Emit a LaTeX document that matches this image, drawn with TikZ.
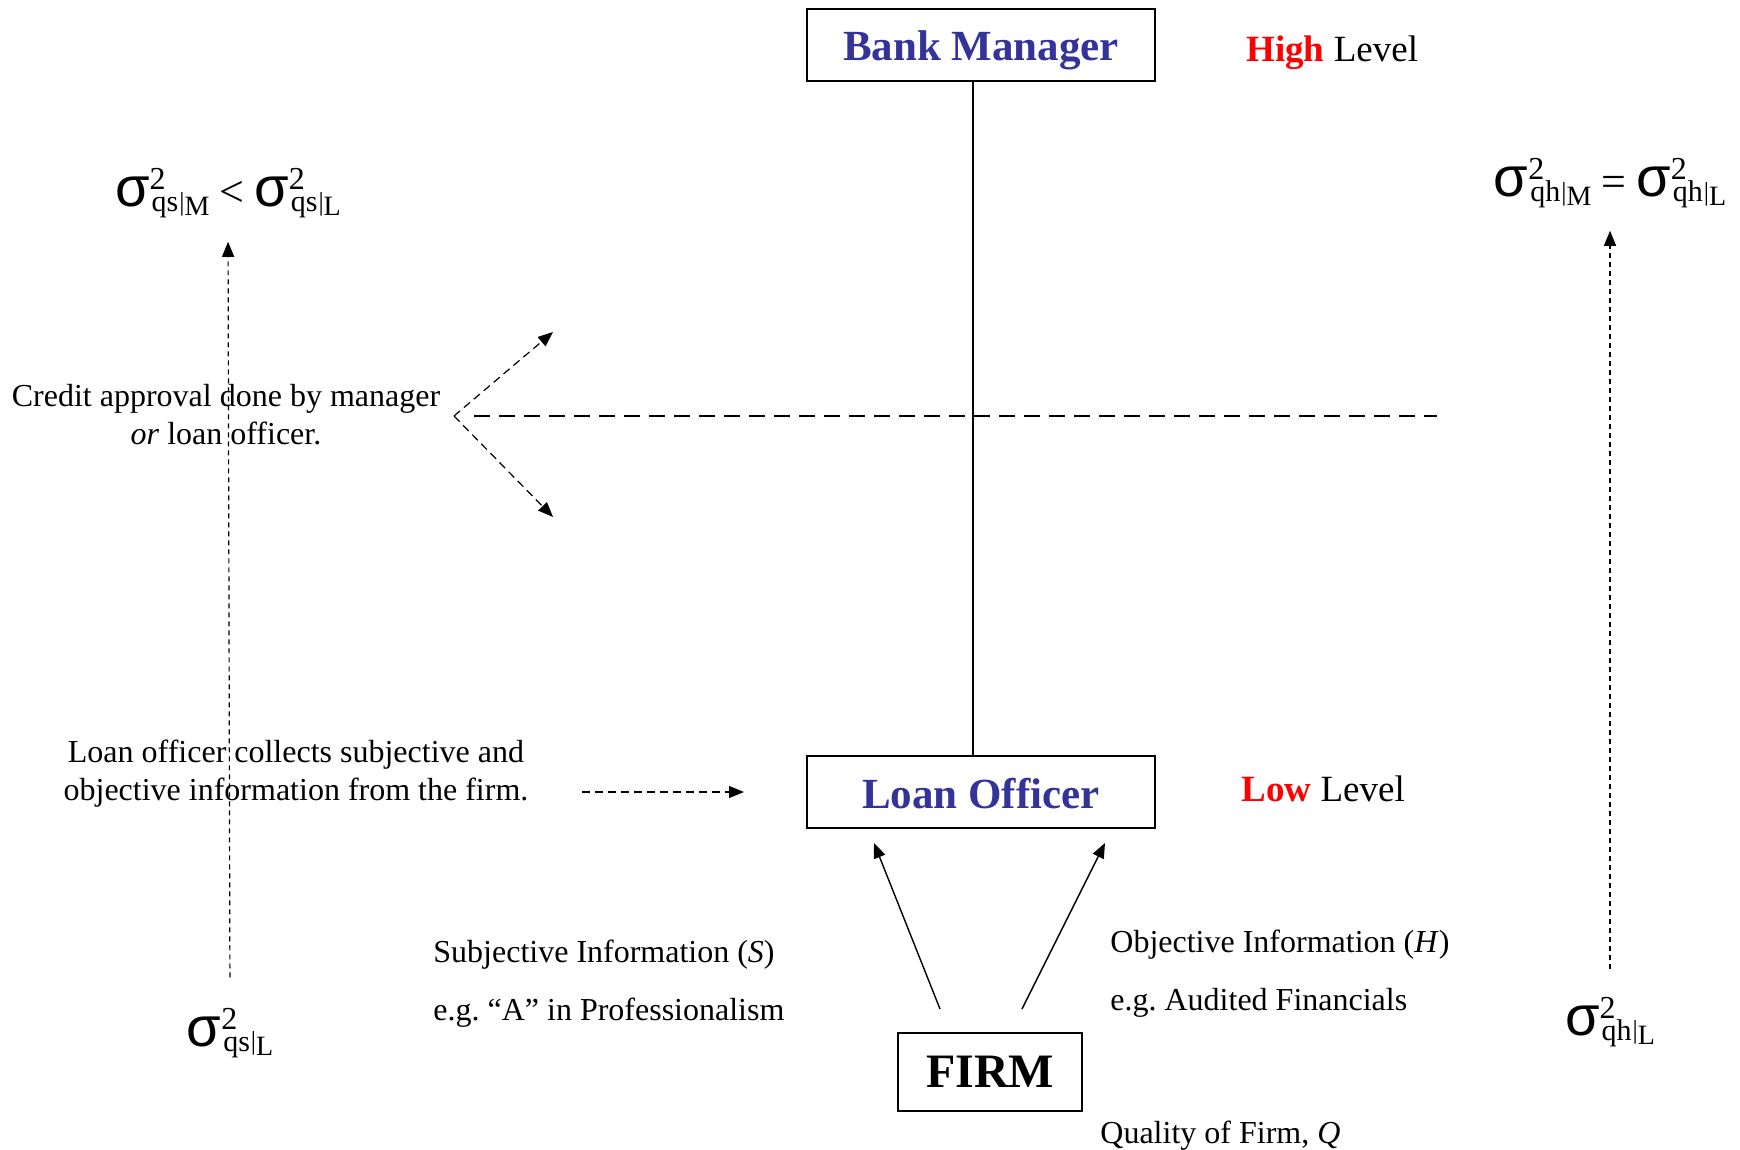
\documentclass[tikz,border=0pt]{standalone}
\usepackage{fontspec}
\setmainfont{Liberation Serif}
\newfontfamily\sgfont{Liberation Sans}
\usetikzlibrary{arrows.meta,calc}
\definecolor{bmblue}{RGB}{51,51,153}
\frenchspacing
\newcommand{\sg}[2]{{\sgfont\fontsize{28}{28}\selectfont σ}\raisebox{8.5pt}{\fontsize{16}{16}\selectfont 2}\kern-7pt\raisebox{-2.5pt}{\fontsize{15}{15}\selectfont #1}\kern0.5pt\raisebox{-1.7pt}{\fontsize{13}{13}\selectfont|}\raisebox{-4.5pt}{\fontsize{14}{14}\selectfont #2}}
\newcommand{\rel}[1]{\kern5pt{\fontsize{22}{22}\selectfont#1}\kern5pt}
\begin{document}
\begin{tikzpicture}[x=0.5pt,y=-0.5pt,>={Triangle[length=7.5pt,width=6pt]}]
\tikzstyle{every node}=[inner sep=0pt,font=\fontsize{16}{19}\selectfont]
\tikzstyle{box}=[draw,line width=1pt,minimum width=174pt,minimum height=36pt,text height=18pt,text depth=2pt,text=bmblue,font=\fontsize{21.5}{24}\selectfont\bfseries]
\tikzstyle{sgm}=[anchor=base]
\tikzstyle{lvl}=[anchor=base west,font=\fontsize{18.5}{20}\selectfont]
\tikzstyle{hdash}=[line width=0.75pt,dash pattern=on 8pt off 4.5pt]
\tikzstyle{vdash}=[line width=0.6pt,dash pattern=on 4pt off 2.5pt]
\tikzstyle{dots}=[line width=0.6pt,dash pattern=on 2.5pt off 2pt]
\useasboundingbox (0,0) rectangle (1740,1150);
\node[box](bm) at (981,45) {Bank Manager};
\node[box](lo) at (981,792) {Loan Officer};
\node[box,text=black,minimum width=92pt,minimum height=39pt,text height=,text depth=,font=\fontsize{24}{26}\selectfont\bfseries](firm) at (990,1072) {FIRM};
\node[lvl](hl) at (1246,62) {\textcolor{red}{\bfseries High} Level};
\node[lvl](ll) at (1241,801) {\textcolor{red}{\bfseries Low} Level};
% variances
\node[sgm](sgt) at (228,207) {\sg{qs}{M}\rel{<}\sg{qs}{L}};
\node[sgm](sgl) at (230,1046) {\sg{qs}{L}};
\node[sgm](sgrt) at (1610,197) {\sg{qh}{M}\rel{=}\sg{qh}{L}};
\node[sgm](sgr) at (1610,1035) {\sg{qh}{L}};
% texts
\node[align=center](cr) at (226,415) {Credit approval done by manager\\\textit{or} loan officer.};
\node[align=center](lc) at (296,774) {Loan officer collects subjective and\\objective information from the firm.};
\node[anchor=west](si) at (433,955) {Subjective Information (\textit{S})};
\node[anchor=west](se) at (433,1013) {e.g. ``A'' in Professionalism};
\node[anchor=west](oi) at (1110,945) {Objective Information (\textit{H})};
\node[anchor=west](oe) at (1110,1003) {e.g. Audited Financials};
\node[anchor=west](qf) at (1100,1136) {Quality of Firm, \textit{Q}};
% lines
\draw[line width=0.75pt] ($(bm.south)+(-8,0)$) -- ($(lo.north)+(-8,0)$);
\coordinate (v) at (454,416);
\coordinate (hs) at (474,416);
\coordinate (he) at (1437,416);
\coordinate (vu) at (553,332);
\coordinate (vd) at (553,517);
\draw[hdash] (hs) -- (he);
\draw[vdash,->] (v) -- (vu);
\draw[vdash,->] (v) -- (vd);
\draw[dots,->,shorten <=15pt,shorten >=11.5pt] (sgl.north) -- (sgt.south);
\draw[dots,->,shorten <=13.5pt,shorten >=11pt] (sgr.north) -- (sgrt.south);
\draw[vdash,->,shorten <=26.5pt,shorten >=31pt] (lc.east |- lo.west) -- (lo.west);
\draw[line width=0.7pt,->] ($(firm.north)+(-50,-23)$) -- ($(lo.south)+(-107,14)$);
\draw[line width=0.7pt,->] ($(firm.north)+(32,-23)$) -- ($(lo.south)+(124,14)$);
\end{tikzpicture}
\end{document}
